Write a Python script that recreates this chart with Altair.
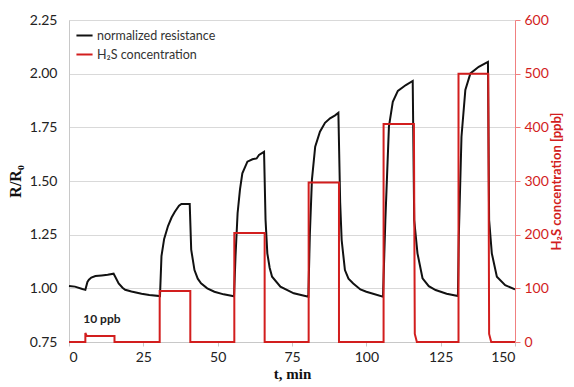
import altair as alt
import pandas as pd

# normalized resistance R/R0
res_t = [0, 2, 4.5, 5.5, 6.2, 6.7, 7.5, 8.9, 11, 13, 15, 15.5, 16.7, 18, 18.9, 21, 24.4, 27, 30.6,
         31.1, 32, 33.3, 34.5, 35.6, 37, 37.8, 40.6, 41.1, 42.2, 43.3, 44.4, 46.5, 48.9, 52, 55.5,
         56, 56.7, 57.5, 58.3, 60, 61.7, 63.1, 63.9, 65.6, 66.1, 66.7, 67.5, 68.3, 71.1, 75.6, 80.5,
         81, 81.7, 82.8, 84.4, 86.1, 87.8, 89.5, 90.6, 91.2, 91.7, 92.8, 94, 95.6, 98, 100, 105.6,
         106.4, 107.6, 108.9, 110.6, 113.3, 115.6, 116.1, 117.2, 118.9, 121, 123.3, 127, 130.8,
         131.1, 132, 133.3, 135, 137.8, 140.9, 141.3, 142.2, 143.9, 146.7, 150]
res_v = [1.011, 1.008, 0.997, 0.993, 1.03, 1.04, 1.05, 1.057, 1.06, 1.063, 1.068, 1.055, 1.023, 1.003, 0.993, 0.985, 0.975, 0.969, 0.964,
         1.15, 1.23, 1.29, 1.33, 1.357, 1.385, 1.393, 1.393, 1.18, 1.085, 1.045, 1.023, 1.0, 0.984, 0.972, 0.963,
         1.15, 1.35, 1.46, 1.536, 1.59, 1.601, 1.605, 1.621, 1.636, 1.32, 1.163, 1.095, 1.054, 1.008, 0.977, 0.961,
         1.25, 1.505, 1.66, 1.73, 1.771, 1.792, 1.806, 1.818, 1.4, 1.225, 1.085, 1.045, 1.023, 0.995, 0.984, 0.961,
         1.318, 1.753, 1.869, 1.92, 1.947, 1.966, 1.318, 1.163, 1.047, 1.01, 0.992, 0.975, 0.964,
         1.24, 1.706, 1.924, 2.001, 2.032, 2.055, 1.318, 1.163, 1.054, 1.015, 0.995]

# H2S concentration [ppb]
h2s_t = [0, 5.5, 5.5, 6, 15.3, 15.3, 30.5, 30.5, 40.8, 40.8, 55.6, 55.6, 65.8, 65.8, 80.6, 80.6,
         90.8, 90.8, 105.8, 105.8, 116, 116.3, 117, 131, 131, 141, 141.3, 142, 150]
h2s_v = [0, 0, 17, 11, 11, 0, 0, 95, 95, 0, 0, 203, 203, 0, 0, 297, 297, 0, 0, 406, 406, 15, 0,
         0, 500, 500, 15, 0, 0]

x_ticks = [0, 25, 50, 75, 100, 125, 150]
left_ticks = [0.75, 1.0, 1.25, 1.5, 1.75, 2.0, 2.25]
right_ticks = [0, 100, 200, 300, 400, 500, 600]

S1 = "normalized resistance"
S2 = "H\u2082S concentration"

df1 = pd.DataFrame({"t": res_t, "v": res_v, "s": S1, "i": range(len(res_t))})
df2 = pd.DataFrame({"t": h2s_t, "v": h2s_v, "s": S2, "i": range(len(h2s_t))})
ann = pd.DataFrame({"t": [4.8], "v": [0.855], "label": ["10 ppb"]})

RED = "#d21e1e"
FONT = "Lato"

color = alt.Color("s:N", scale=alt.Scale(domain=[S1, S2], range=["#111111", RED]),
                  legend=alt.Legend(title=None, orient="none", legendX=6, legendY=6,
                                    symbolType="stroke", symbolStrokeWidth=2, symbolSize=260,
                                    labelFont=FONT, labelFontSize=12.5, labelColor="#333333",
                                    rowPadding=3, labelOffset=3))

xenc = alt.X("t:Q", scale=alt.Scale(domain=[0, 150], nice=False),
             axis=alt.Axis(values=x_ticks, title="t, min", titleFont="Liberation Serif",
                           titleFontSize=15, titleFontWeight="bold", titleColor="#111",
                           titlePadding=2, labelFont=FONT, labelFontSize=14, labelColor="#222",
                           grid=False, domainColor="#c8c8c8", tickColor="#c8c8c8", tickSize=4,
                           labelPadding=4))

black = alt.Chart(df1).mark_line(strokeWidth=2, color="#111111").encode(
    x=xenc,
    y=alt.Y("v:Q", scale=alt.Scale(domain=[0.75, 2.25], nice=False, zero=False),
            axis=alt.Axis(values=left_ticks, format=".2f", title="R/R\u2080",
                          titleFont="Liberation Serif", titleFontSize=16, titleFontWeight="bold",
                          titleColor="#111", titlePadding=6, labelFont=FONT, labelFontSize=14,
                          labelColor="#222", grid=True, gridColor="#d9d9d9", domainColor="#c8c8c8",
                          ticks=False, labelPadding=12)),
    color=color,
    order="i:Q",
)

text = alt.Chart(ann).mark_text(font=FONT, fontSize=12, fontWeight="bold", color="#222",
                                align="left").encode(
    x="t:Q", y=alt.Y("v:Q"), text="label:N")

left = alt.layer(black, text)

red = alt.Chart(df2).mark_line(strokeWidth=2, color=RED).encode(
    x=alt.X("t:Q", scale=alt.Scale(domain=[0, 150], nice=False)),
    y=alt.Y("v:Q", scale=alt.Scale(domain=[0, 600], nice=False),
            axis=alt.Axis(orient="right", values=right_ticks, title="H\u2082S concentration [ppb]",
                          titleFont=FONT, titleFontSize=13, titleFontWeight="bold",
                          titleColor=RED, titleAngle=270, titlePadding=15, labelFont=FONT,
                          labelFontSize=14, labelColor=RED, grid=False,
                          domainColor="#f08080", tickColor="#f08080", tickSize=5, labelPadding=4)),
    color=color,
    order="i:Q",
)

chart = alt.layer(left, red).resolve_scale(y="independent").properties(
    width=446, height=322,
    autosize=alt.AutoSizeParams(type="none"),
    padding={"left": 61, "top": 12, "right": 51, "bottom": 43},
).configure_view(stroke=None).configure(background="white")

chart.save("out.html", embed_options={"renderer": "svg", "actions": False})
